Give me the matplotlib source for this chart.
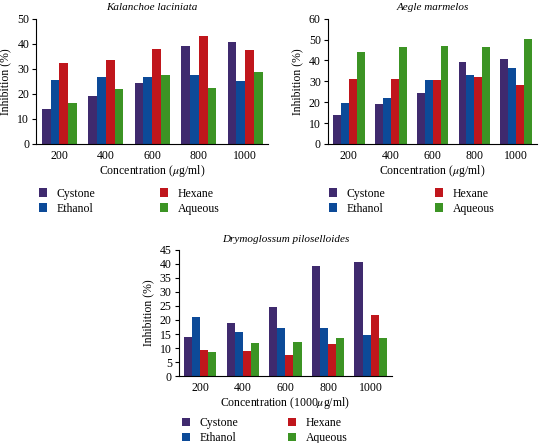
import matplotlib
matplotlib.use("Agg")
import matplotlib.pyplot as plt
import numpy as np

plt.rcParams["font.family"] = ["Liberation Serif", "DejaVu Serif"]
plt.rcParams["mathtext.fontset"] = "stix"
plt.rcParams["font.size"] = 8.5

concentrations = ["200", "400", "600", "800", "1000"]
series_names = ["Cystone", "Ethanol", "Hexane", "Aqueous"]
colors = ["#3f2a6e", "#0c4a98", "#c0161c", "#3c9424"]

cystone = [14.0, 19.0, 24.5, 39.1, 40.6]

kalanchoe_ethanol = [25.5, 26.6, 26.9, 27.4, 25.1]
kalanchoe_hexane = [32.2, 33.5, 38.0, 43.1, 37.6]
kalanchoe_aqueous = [16.2, 21.8, 27.5, 22.3, 28.7]

aegle_ethanol = [19.7, 22.2, 30.6, 33.1, 36.2]
aegle_hexane = [31.0, 31.0, 30.6, 32.0, 28.2]
aegle_aqueous = [44.0, 46.6, 46.9, 46.4, 50.2]

drymo_ethanol = [21.2, 15.6, 17.3, 17.0, 14.8]
drymo_hexane = [9.2, 9.0, 7.4, 11.4, 21.7]
drymo_aqueous = [8.6, 11.8, 12.3, 13.5, 13.6]


def draw_panel(fig, rect, title, series, ymax, ystep, xlabel,
               leg_anchor, colspace):
    ax = fig.add_axes(rect)
    x = np.arange(len(concentrations))
    w = 0.19
    handles = []
    for i, (vals, c) in enumerate(zip(series, colors)):
        h = ax.bar(x + (i - 1.5) * w, vals, width=w, color=c, edgecolor="none")
        handles.append(h)
    ax.set_xlim(-0.5, len(concentrations) - 0.5)
    ax.set_ylim(0, ymax)
    ax.set_yticks(np.arange(0, ymax + 0.1, ystep))
    ax.set_xticks(x)
    ax.set_xticklabels(concentrations)
    ax.tick_params(axis="x", length=0, pad=4)
    ax.tick_params(axis="y", length=3, direction="out", pad=2)
    for s in ["top", "right"]:
        ax.spines[s].set_visible(False)
    ax.spines["left"].set_linewidth(0.8)
    ax.spines["bottom"].set_linewidth(0.8)
    ax.set_title(title, fontstyle="italic", fontsize=8, pad=6)
    ax.set_ylabel("Inhibition (%)", labelpad=4)
    ax.set_xlabel(xlabel, labelpad=1)
    ax.legend(handles, series_names, ncol=2, loc="upper left",
              bbox_to_anchor=leg_anchor, frameon=False,
              handlelength=0.7, handleheight=0.7, handletextpad=0.8,
              columnspacing=colspace, labelspacing=0.25, borderaxespad=0)
    return ax


fig = plt.figure(figsize=(5.4, 4.43), dpi=100)

draw_panel(fig, [0.067, 0.675, 0.43, 0.283], "Kalanchoe laciniata",
           [cystone, kalanchoe_ethanol, kalanchoe_hexane, kalanchoe_aqueous],
           50, 10, r"Concentration ($\mu$g/ml)", (-0.01, -0.31), 5.5)
draw_panel(fig, [0.607, 0.675, 0.388, 0.283], "Aegle marmelos",
           [cystone, aegle_ethanol, aegle_hexane, aegle_aqueous],
           60, 10, r"Concentration ($\mu$g/ml)", (-0.016, -0.31), 4.2)
draw_panel(fig, [0.331, 0.151, 0.395, 0.285], "Drymoglossum piloselloides",
           [cystone, drymo_ethanol, drymo_hexane, drymo_aqueous],
           45, 5, r"Concentration (1000$\mu$g/ml)", (-0.007, -0.286), 4.2)

fig.savefig("out.png", dpi=100)
